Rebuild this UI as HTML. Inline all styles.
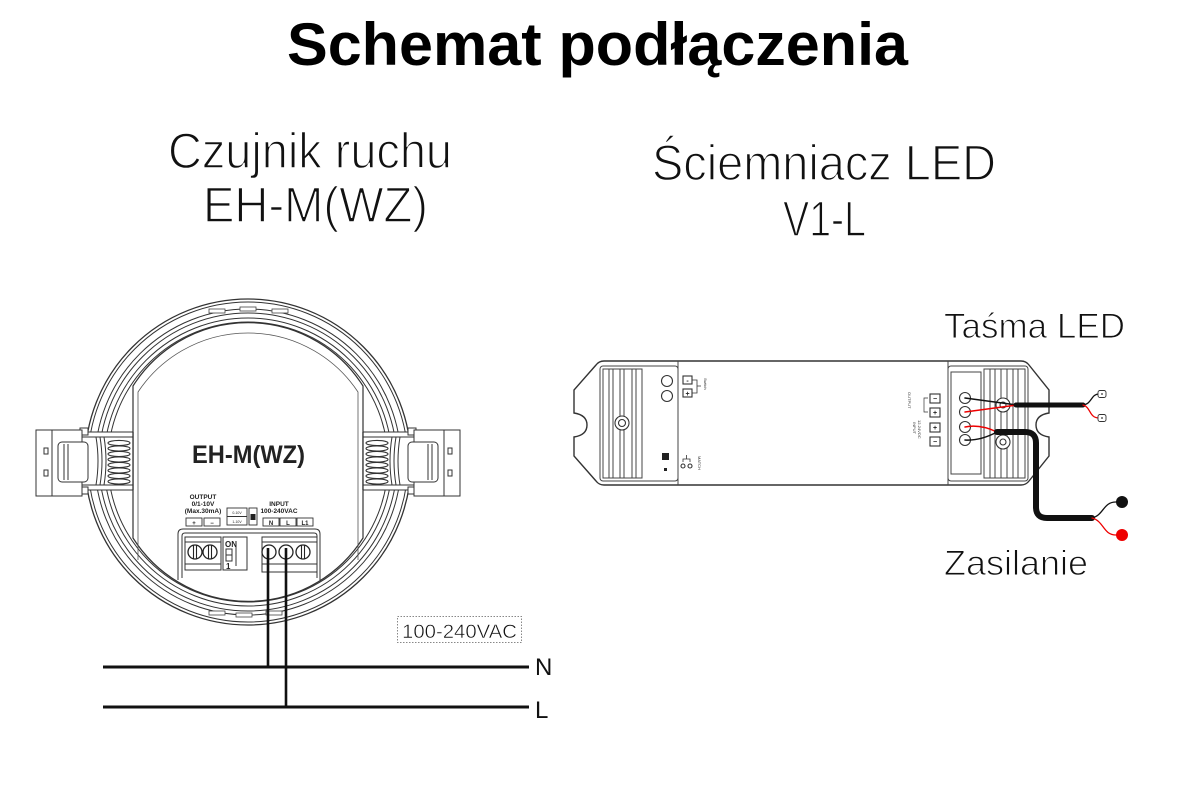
<!DOCTYPE html>
<html><head><meta charset="utf-8">
<style>
html,body{margin:0;padding:0;background:#fff;}
svg{display:block;}
text{font-family:"Liberation Sans",sans-serif;}
</style></head><body>
<svg width="1200" height="800" viewBox="0 0 1200 800" xmlns="http://www.w3.org/2000/svg">
<rect width="1200" height="800" fill="#fff"/>

<!-- Titles -->
<text x="287" y="65" font-size="60" font-weight="bold" textLength="621" lengthAdjust="spacingAndGlyphs" fill="#000">Schemat podłączenia</text>
<g fill="#111" stroke="#fff" stroke-width="1.4">
<text x="168" y="168" font-size="50" textLength="284" lengthAdjust="spacingAndGlyphs">Czujnik ruchu</text>
<text x="203" y="222" font-size="50" textLength="225" lengthAdjust="spacingAndGlyphs">EH-M(WZ)</text>
<text x="652" y="180" font-size="50" textLength="344" lengthAdjust="spacingAndGlyphs">Ściemniacz LED</text>
<text x="783" y="236" font-size="50" textLength="83" lengthAdjust="spacingAndGlyphs">V1-L</text>
<text x="944" y="338" font-size="35" stroke-width="1" textLength="181" lengthAdjust="spacingAndGlyphs">Taśma LED</text>
<text x="944" y="575" font-size="35" stroke-width="1" textLength="144" lengthAdjust="spacingAndGlyphs">Zasilanie</text>
</g>

<!-- ===== Sensor EH-M(WZ) ===== -->
<g fill="none" stroke="#333" stroke-width="1">
<circle cx="248" cy="462" r="163" stroke-width="1.3"/>
<circle cx="248" cy="462" r="160"/>
<circle cx="248" cy="462" r="153"/>
<circle cx="248" cy="462" r="149"/>
<circle cx="248" cy="462" r="144"/>
<circle cx="248" cy="462" r="140"/>
</g>
<!-- notches on rings -->
<g fill="#fff" stroke="#444" stroke-width="0.8">
<rect x="209" y="309" width="16" height="4"/>
<rect x="240" y="307" width="16" height="4"/>
<rect x="272" y="309" width="16" height="4"/>
<rect x="209" y="611" width="16" height="4"/>
<rect x="236" y="613" width="16" height="4"/>
<rect x="266" y="611" width="16" height="4"/>
</g>
<!-- inner plate -->
<path d="M133 538 V386 A136 136 0 0 1 363 386 V538 A136 136 0 0 1 133 538 Z" fill="#fff" stroke="#333" stroke-width="1.2"/>
<path d="M138 560 V392 A132 132 0 0 1 358 392 V560" fill="none" stroke="#555" stroke-width="0.8"/>

<!-- clips -->
<g id="clipL" stroke="#333" stroke-width="1">
<rect x="80" y="432" width="53" height="58" fill="#fff"/>
<line x1="80" y1="437" x2="133" y2="437"/>
<line x1="80" y1="485" x2="133" y2="485"/>
<rect x="80" y="428" width="8" height="7" fill="#fff"/>
<rect x="80" y="487" width="8" height="7" fill="#fff"/>
<path d="M96 437 Q100 461 96 485" fill="none"/>
<path d="M100 437 Q104 461 100 485" fill="none"/>
<path d="M104 437 Q108 461 104 485" fill="none"/>
<rect x="36" y="430" width="46" height="66" fill="#fff"/>
<line x1="52" y1="430" x2="52" y2="496"/>
<rect x="58" y="442" width="30" height="40" rx="4" fill="#fff"/>
<line x1="64" y1="444" x2="64" y2="480"/>
<line x1="68" y1="444" x2="68" y2="480"/>
<rect x="44" y="448" width="4" height="6" fill="#fff"/>
<rect x="44" y="470" width="4" height="6" fill="#fff"/>
<g fill="none" stroke-width="1.1">
<ellipse cx="119" cy="443" rx="11" ry="2.6"/>
<ellipse cx="119" cy="448.5" rx="11" ry="2.6"/>
<ellipse cx="119" cy="454" rx="11" ry="2.6"/>
<ellipse cx="119" cy="459.5" rx="11" ry="2.6"/>
<ellipse cx="119" cy="465" rx="11" ry="2.6"/>
<ellipse cx="119" cy="470.5" rx="11" ry="2.6"/>
<ellipse cx="119" cy="476" rx="11" ry="2.6"/>
<ellipse cx="119" cy="481.5" rx="11" ry="2.6"/>
</g>
<line x1="133" y1="432" x2="133" y2="490" stroke-width="1.3"/>
</g>
<use href="#clipL" transform="translate(496,0) scale(-1,1)"/>

<!-- label -->
<text x="192" y="463" font-size="25" font-weight="bold" textLength="113" lengthAdjust="spacingAndGlyphs" fill="#222">EH-M(WZ)</text>

<!-- small labels -->
<g font-size="6.5" font-weight="bold" fill="#222" text-anchor="middle">
<text x="203" y="499">OUTPUT</text>
<text x="203" y="506">0/1-10V</text>
<text x="203" y="513">(Max.30mA)</text>
<text x="279" y="506">INPUT</text>
<text x="279" y="513">100-240VAC</text>
</g>
<g fill="#fff" stroke="#333" stroke-width="0.9">
<rect x="186" y="518" width="16" height="8"/>
<rect x="204" y="518" width="16" height="8"/>
<rect x="227" y="508" width="20" height="17"/>
<line x1="227" y1="516.5" x2="247" y2="516.5"/>
<rect x="249" y="508" width="8" height="17"/>
<rect x="263" y="518" width="16" height="8"/>
<rect x="280" y="518" width="16" height="8"/>
<rect x="297" y="518" width="16" height="8"/>
</g>
<rect x="250.5" y="514" width="5" height="6" fill="#222"/>
<g font-size="6" font-weight="bold" fill="#222" text-anchor="middle">
<text x="194" y="525">+</text><text x="212" y="525">−</text>
<text x="271" y="525">N</text><text x="288" y="525">L</text><text x="305" y="525">L1</text>
</g>
<g font-size="3.5" fill="#222" text-anchor="middle">
<text x="237" y="514">0-10V</text><text x="237" y="523">1-10V</text>
</g>

<!-- terminal block -->
<g fill="#fff" stroke="#333" stroke-width="1">
<path d="M178 580 V534 Q178 529 183 529 H315 Q320 529 320 534 V580"/>
<path d="M182 578 V536 Q182 533 185 533 H314 Q317 533 317 536 V578"/>
<rect x="185" y="537" width="36" height="33"/>
<line x1="185" y1="542" x2="221" y2="542"/>
<line x1="185" y1="564" x2="221" y2="564"/>
<rect x="223" y="537" width="24" height="33"/>
<rect x="226" y="549" width="6" height="12"/>
<line x1="226" y1="555" x2="232" y2="555"/>
<line x1="236" y1="542" x2="236" y2="566"/>
<rect x="262" y="537" width="55" height="35"/>
<line x1="262" y1="542" x2="317" y2="542"/>
<line x1="262" y1="564" x2="317" y2="564"/>
</g>
<text x="225" y="547" font-size="8" font-weight="bold" fill="#222">ON</text>
<text x="226" y="569" font-size="8" font-weight="bold" fill="#222">1</text>
<g fill="#fff" stroke="#222" stroke-width="1.3">
<circle cx="195" cy="552" r="7"/><circle cx="210" cy="552" r="7"/>
<circle cx="269" cy="552" r="7"/><circle cx="286" cy="552" r="7"/><circle cx="303" cy="552" r="7"/>
</g>
<g stroke="#222" stroke-width="1.1">
<line x1="193.5" y1="545" x2="193.5" y2="559"/><line x1="196.5" y1="545" x2="196.5" y2="559"/>
<line x1="208.5" y1="545" x2="208.5" y2="559"/><line x1="211.5" y1="545" x2="211.5" y2="559"/>
<line x1="301.5" y1="545" x2="301.5" y2="559"/><line x1="304.5" y1="545" x2="304.5" y2="559"/>
</g>

<!-- mains wires -->
<g stroke="#111" fill="none">
<line x1="268" y1="548" x2="268" y2="667" stroke-width="2.6"/>
<line x1="286" y1="548" x2="286" y2="708" stroke-width="2.6"/>
<line x1="103" y1="667" x2="529" y2="667" stroke-width="3"/>
<line x1="103" y1="707" x2="529" y2="707" stroke-width="3"/>
</g>
<text x="535" y="675" font-size="24" fill="#111">N</text>
<text x="535" y="718" font-size="24" fill="#111">L</text>
<rect x="397.5" y="616.5" width="124" height="26" fill="none" stroke="#888" stroke-width="1" stroke-dasharray="1.5,1.5"/>
<text x="402" y="638" font-size="19" fill="#111" stroke="#fff" stroke-width="0.5" textLength="115" lengthAdjust="spacingAndGlyphs">100-240VAC</text>

<!-- ===== V1-L dimmer ===== -->
<path d="M604 361 H1021 Q1026 361 1029 365 L1049 390 V413 Q1036 415 1036 425 Q1036 435 1049 437 V456 L1029 481 Q1026 485 1021 485 H604 Q599 485 596 481 L574 456 V437 Q587 435 587 425 Q587 415 574 413 V390 L596 365 Q599 361 604 361 Z" fill="#fff" stroke="#333" stroke-width="1.4"/>
<g fill="none" stroke="#444" stroke-width="1">
<rect x="600" y="366" width="78" height="115" rx="3"/>
<rect x="603" y="369" width="39" height="109"/>
<line x1="609" y1="369" x2="609" y2="478"/>
<line x1="613" y1="369" x2="613" y2="478"/>
<line x1="620" y1="369" x2="620" y2="478"/>
<line x1="624" y1="369" x2="624" y2="478"/>
<line x1="632" y1="369" x2="632" y2="478"/>
<line x1="636" y1="369" x2="636" y2="478"/>
<line x1="678" y1="361" x2="678" y2="485"/>
<line x1="948" y1="361" x2="948" y2="485"/>
<rect x="948" y="366" width="80" height="115" rx="3"/>
<rect x="951" y="372" width="30" height="102"/>
<rect x="984" y="369" width="41" height="109"/>
<line x1="990" y1="369" x2="990" y2="478"/>
<line x1="995" y1="369" x2="995" y2="478"/>
<line x1="1001" y1="369" x2="1001" y2="478"/>
<line x1="1007" y1="369" x2="1007" y2="478"/>
<line x1="1013" y1="369" x2="1013" y2="478"/>
<line x1="1018" y1="369" x2="1018" y2="478"/>
</g>
<g fill="#fff" stroke="#333" stroke-width="1.1">
<circle cx="622" cy="423" r="7"/><circle cx="622" cy="423" r="3.5"/>
<circle cx="667" cy="381" r="5.5"/><circle cx="667" cy="396" r="5.5"/>
<rect x="683" y="376" width="9" height="8"/><rect x="683" y="389" width="9" height="8"/>
<circle cx="1003" cy="405" r="7"/><circle cx="1003" cy="405" r="3"/>
<circle cx="1003" cy="442" r="7"/><circle cx="1003" cy="442" r="3"/>
<rect x="930" y="394" width="10" height="9"/><rect x="930" y="408" width="10" height="9"/>
<rect x="930" y="423" width="10" height="9"/><rect x="930" y="437" width="10" height="9"/>
<circle cx="965" cy="398" r="5.5"/><circle cx="965" cy="412" r="5.5"/>
<circle cx="965" cy="427" r="5.5"/><circle cx="965" cy="440" r="5.5"/>
<circle cx="683" cy="466" r="2"/><circle cx="690" cy="466" r="2"/>
</g>
<g font-size="7" font-weight="bold" fill="#222" text-anchor="middle">
<text x="687.5" y="383">-</text><text x="687.5" y="396">+</text>
<text x="935" y="401">−</text><text x="935" y="415">+</text><text x="935" y="430">+</text><text x="935" y="444">−</text>
</g>
<rect x="662" y="453" width="7" height="7" fill="#222"/>
<rect x="664" y="468" width="3" height="3" fill="#222"/>
<path d="M692 380 H697 V393 H692 M697 386 H701" fill="none" stroke="#333" stroke-width="0.8"/>
<path d="M683 462 V459 H690 V462 M686.5 459 V455" fill="none" stroke="#333" stroke-width="0.8"/>
<g font-size="4" fill="#333">
<text transform="translate(704,378) rotate(90)">Switch</text>
<text transform="translate(698,456) rotate(90)">MATCH</text>
<text transform="translate(908,392) rotate(90)">OUTPUT</text>
<text transform="translate(913,422) rotate(90)">INPUT</text>
<text transform="translate(918,420) rotate(90)">12-24VDC</text>
</g>
<path d="M928 398 H924 V412 H928" fill="none" stroke="#333" stroke-width="0.7"/>

<!-- wires -->
<g fill="none" stroke-linecap="round">
<path d="M965 398 L1017 405" stroke="#111" stroke-width="1.5"/>
<path d="M965 412 L1017 405" stroke="#e00" stroke-width="1.5"/>
<path d="M965 427 Q980 424 997 432" stroke="#e00" stroke-width="1.5"/>
<path d="M965 440 Q980 441 997 432" stroke="#111" stroke-width="1.5"/>
<path d="M1016 405 H1083" stroke="#111" stroke-width="5"/>
<path d="M1083 405 C1092 404 1091 394 1099 394" stroke="#111" stroke-width="1.3"/>
<path d="M1083 405 C1091 407 1089 418 1099 418" stroke="#e00" stroke-width="1.3"/>
<path d="M997 432 H1025 Q1036 432 1036 443 V507 Q1036 518 1047 518 H1092" stroke="#111" stroke-width="6"/>
<path d="M1092 518 C1104 515 1103 502 1116 502" stroke="#111" stroke-width="1.3"/>
<path d="M1092 518 C1104 521 1103 535 1116 535" stroke="#e00" stroke-width="1.3"/>
</g>
<rect x="1098" y="390.5" width="8" height="7" rx="2" fill="#fff" stroke="#333" stroke-width="0.9"/>
<rect x="1098" y="414.5" width="8" height="7" rx="2" fill="#fff" stroke="#333" stroke-width="0.9"/>
<circle cx="1102" cy="394" r="0.9" fill="#333"/>
<circle cx="1102" cy="418" r="0.9" fill="#333"/>
<circle cx="1122" cy="502" r="6" fill="#111"/>
<circle cx="1122" cy="535" r="6" fill="#e00"/>
</svg>
</body></html>
